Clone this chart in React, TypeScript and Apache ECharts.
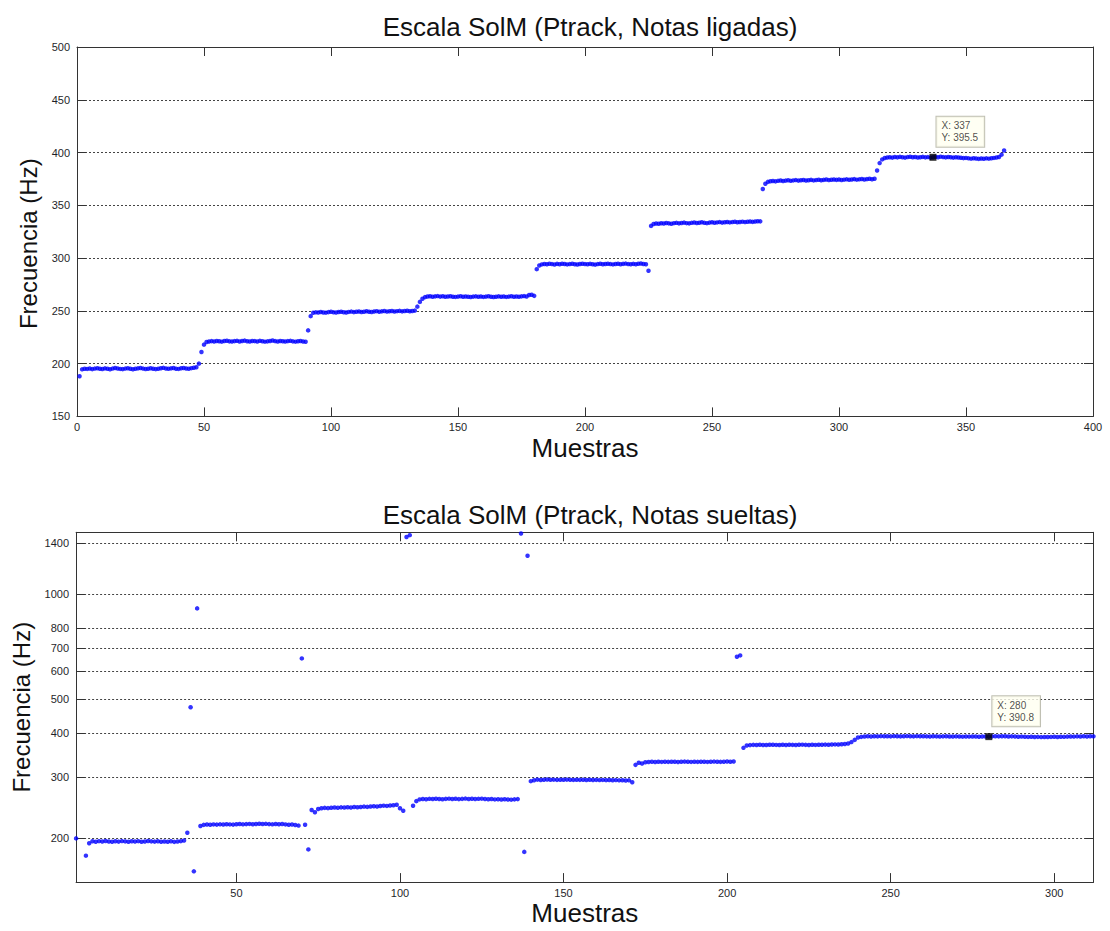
import React, { useEffect, useRef } from "react";
import * as echarts from "echarts";

// ---------- Upper plot: pitch track of the G major scale, legato notes ----------
const topTitle = "Escala SolM (Ptrack, Notas ligadas)";
const topNote1 = [188, 194.6, 195.2, 195.0, 195.4, 194.8, 195.3, 195.6, 195.1, 194.9, 195.5, 195.2, 194.7, 195.3, 195.8, 195.4, 195.0, 194.8, 195.3, 195.6, 195.1, 194.7, 195.2, 195.5, 195.9, 195.3, 194.9, 195.2, 195.6, 195.1, 194.8, 195.2, 195.6, 196.0, 195.4, 195.1, 195.5, 195.8, 195.2, 195.0, 195.6, 195.9, 195.4, 195.2, 195.7, 196.1, 196.5];
const topGlide1 = [200, 211, 218, 220.5];
const topNote2 = [220.9, 221.3, 221.0, 221.5, 221.2, 220.8, 221.4, 221.7, 221.1, 220.9, 221.3, 221.6, 221.0, 221.4, 221.8, 221.2, 220.9, 221.5, 221.3, 221.0, 221.6, 221.2, 220.8, 221.1, 221.5, 221.9, 221.3, 221.0, 221.4, 221.2, 220.9, 221.3, 221.6, 221.1, 220.8, 221.2, 221.5, 221.0, 220.7];
const topGlide2 = [231.5, 245];
const topNote3 = [248.2, 248.6, 248.4, 248.9, 248.5, 248.3, 248.8, 249.1, 248.6, 248.4, 248.9, 249.2, 248.7, 248.5, 249.0, 249.3, 248.8, 249.1, 249.4, 248.9, 249.2, 249.6, 249.1, 248.9, 249.4, 249.7, 249.2, 249.5, 249.8, 249.3, 249.6, 249.9, 249.4, 249.7, 250.0, 249.5, 249.8, 250.1, 249.6, 249.9, 250.2];
const topGlide3 = [254, 258.5, 261.5];
const topNote4 = [263.0, 263.6, 263.9, 263.4, 263.7, 264.0, 263.5, 263.8, 263.3, 263.6, 263.9, 263.4, 263.2, 263.5, 263.8, 263.3, 263.6, 263.4, 263.1, 263.5, 263.7, 263.3, 263.6, 263.2, 263.5, 263.8, 263.4, 263.1, 263.4, 263.7, 263.3, 263.6, 263.2, 263.5, 263.8, 263.4, 263.6, 263.3, 263.7, 264.0, 263.6, 265.0, 265.3, 264.2];
const topGlide4 = [289.5, 293];
const topNote5 = [294.0, 294.4, 294.1, 294.6, 294.3, 293.9, 294.5, 294.2, 294.7, 294.4, 294.0, 294.3, 294.6, 294.2, 293.9, 294.4, 294.7, 294.3, 294.1, 294.5, 294.2, 293.8, 294.3, 294.6, 294.1, 294.4, 294.7, 294.3, 294.0, 294.4, 294.6, 294.2, 294.5, 294.8, 294.3, 294.1, 294.5, 294.2, 294.6, 294.9, 294.4, 294.1];
const topGlide5 = [288, 330.5];
const topNote6 = [332.3, 332.8, 332.5, 333.0, 332.7, 333.2, 332.9, 332.6, 333.1, 333.4, 332.9, 333.2, 333.6, 333.1, 332.9, 333.4, 333.7, 333.2, 333.5, 333.9, 333.4, 333.1, 333.6, 333.9, 333.5, 333.8, 334.1, 333.6, 333.9, 334.2, 333.8, 334.1, 334.4, 333.9, 334.2, 334.5, 334.1, 334.4, 334.7, 334.3, 334.6, 334.9, 334.8];
const topGlide6 = [365.5, 370.5];
const topNote7 = [372.2, 372.8, 373.1, 372.7, 373.2, 373.5, 373.0, 373.4, 373.7, 373.2, 373.6, 373.9, 373.4, 373.7, 374.0, 373.5, 373.8, 374.1, 373.6, 373.9, 374.2, 373.8, 374.1, 374.4, 373.9, 374.2, 374.5, 374.1, 374.4, 374.0, 374.3, 374.6, 374.2, 374.5, 374.8, 374.3, 374.6, 374.9, 374.5, 374.8, 375.1, 374.7, 375.2];
const topGlide7 = [383, 390, 393.5];
const topNote8 = [394.8, 395.3, 395.6, 395.2, 395.8, 395.4, 395.9, 395.5, 395.2, 395.7, 396.0, 395.5, 395.8, 395.3, 395.6, 395.9, 395.4, 395.7, 395.2, 395.5, 395.9, 395.6, 396.1, 395.7, 395.4, 395.8, 395.5, 395.2, 395.6, 395.3, 395.0, 394.7, 394.9, 394.5, 394.2, 394.6, 394.3, 394.0, 394.4, 394.1, 394.5, 394.2, 394.6, 394.9, 395.3, 395.8];
const topTail = [398, 402];
const topTipSample = 337;

const topYTicks = { min: 150, max: 500, step: 50 };
const topXTicks = { min: 0, max: 400, step: 50 };

// ---------- Lower plot: detached notes (log frequency axis) ----------
const botTitle = "Escala SolM (Ptrack, Notas sueltas)";
const botStart = [200, null, null, 178.5, 193.8];
const botNote1 = [196.2, 195.6, 196.4, 195.9, 196.6, 196.0, 195.7, 196.3, 195.8, 196.5, 196.1, 195.6, 196.2, 195.9, 196.4, 195.7, 196.0, 196.6, 196.1, 195.8, 196.3, 195.6, 196.0, 195.7, 196.2, 195.5, 195.9, 196.4, 197.2];
const botGap1 = [207.5, 474, 161, 909, 217];
const botNote2 = [218.6, 219.1, 218.8, 219.3, 219.0, 219.4, 219.1, 219.6, 219.3, 219.0, 219.5, 219.8, 219.4, 219.7, 220.0, 219.6, 219.9, 220.2, 219.8, 220.1, 219.7, 219.4, 219.8, 219.5, 219.9, 219.3, 218.9, 219.2, 218.5, 217.6];
const botGap2 = [654, 218.7, 186, 241, 237.5, 242.8];
const botNote3 = [243.8, 244.5, 244.1, 244.8, 245.2, 244.7, 245.3, 245.0, 245.6, 245.2, 245.8, 245.4, 246.0, 246.5, 246.1, 246.8, 247.2, 246.8, 247.5, 248.1, 247.7, 248.4, 248.8];
const botGap3 = [249.5, 244, 240, 1455, 1472, 248, 255.6, 258.5];
const botNote4 = [259.2, 258.8, 259.5, 259.1, 259.7, 259.3, 258.9, 259.4, 259.8, 259.2, 259.6, 259.0, 259.4, 259.9, 259.3, 259.7, 259.1, 259.5, 259.8, 259.2, 258.7, 259.1, 258.5, 258.9, 258.3, 258.7, 258.4, 258.1, 258.6, 259.0];
const botGap4 = [1488, 183, 1286, 291.5];
const botNote5 = [293.2, 294.5, 293.8, 294.2, 294.6, 294.1, 294.4, 294.0, 294.3, 294.1, 294.5, 294.2, 293.9, 294.3, 294.0, 294.2, 293.8, 294.1, 293.7, 294.0, 293.6, 293.9, 293.5, 293.8, 293.3, 293.6, 293.1, 293.4, 292.8, 293.1];
const botGap5 = [289.5, 324.5, 329, 327.5];
const botNote6 = [330.2, 330.8, 331.1, 330.7, 331.2, 330.9, 331.3, 331.0, 331.4, 331.1, 330.8, 331.2, 331.5, 331.1, 330.9, 331.3, 331.0, 331.4, 331.2, 330.9, 331.3, 331.6, 331.2, 331.0, 331.4, 331.7, 331.3, 331.9];
const botGap6 = [661, 667, 363, 368.5];
const botNote7 = [369.6, 370.2, 369.8, 370.4, 370.0, 369.7, 370.3, 370.6, 370.1, 369.8, 370.4, 370.0, 370.5, 370.2, 369.9, 370.3, 370.7, 370.2, 370.0, 370.5, 370.1, 370.6, 370.3, 370.8, 370.4, 370.9, 371.3, 371.0, 371.6, 372.4];
const botGap7 = [373.5, 377, 382.5, 388.5];
const botNote8 = [390.2, 391.0, 391.6, 391.3, 391.8, 391.4, 392.0, 391.6, 391.9, 391.5, 392.1, 391.7, 391.4, 391.9, 392.2, 391.8, 391.5, 392.0, 391.6, 391.9, 391.5, 391.2, 391.7, 391.4, 391.0, 391.5, 391.8, 391.3, 391.0, 391.4, 391.1, 390.7, 391.2, 390.9, 391.3, 391.0, 390.6, 391.1, 391.2, 390.8, 391.4, 391.8, 391.5, 391.9, 391.6, 391.2, 391.5, 391.0, 390.6, 390.9, 390.4, 390.1, 390.5, 389.8, 390.2, 389.6, 390.0, 389.7, 390.1, 390.4, 390.0, 390.6, 390.3, 390.8, 391.2, 390.9, 391.4, 391.1, 391.6, 391.3, 391.8, 391.5];
const botTipSample = 280;

const botYTickHz = [200, 300, 400, 500, 600, 700, 800, 1000, 1400];
const botYRange = [150, 1500];
const botXTicks = [50, 100, 150, 200, 250, 300];
const botXRange = [1, 312];

const topValues: number[] = [
  ...topNote1, ...topGlide1, ...topNote2, ...topGlide2, ...topNote3, ...topGlide3,
  ...topNote4, ...topGlide4, ...topNote5, ...topGlide5, ...topNote6, ...topGlide6,
  ...topNote7, ...topGlide7, ...topNote8, ...topTail,
];
const botValues: (number | null)[] = [
  ...botStart, ...botNote1, ...botGap1, ...botNote2, ...botGap2, ...botNote3, ...botGap3,
  ...botNote4, ...botGap4, ...botNote5, ...botGap5, ...botNote6, ...botGap6, ...botNote7,
  ...botGap7, ...botNote8,
];

const FONT = 'Arial, "Liberation Sans", Helvetica, sans-serif';
const AXIS_COLOR = "#333";
const TEXT_COLOR = "#1f1f2a";
const MARK_COLOR = "#0000ff";

export default function App() {
  const ref = useRef<HTMLDivElement>(null);

  useEffect(() => {
    if (!ref.current) return;
    const chart = echarts.init(ref.current, null, { renderer: "svg" });

    const topPoints = topValues.map((v, i) => [i + 1, v]);
    const botPoints = botValues
      .map((v, i) => (v == null ? null : [i + 1, Math.log10(v)]))
      .filter((p) => p !== null) as number[][];

    const topTipY = topValues[topTipSample - 1];
    const botTipY = botValues[botTipSample - 1] as number;

    const log = (v: number) => Math.log10(v);
    const botYTicks = botYTickHz.map(log);

    const tick = { show: true, inside: true, length: 9, lineStyle: { color: AXIS_COLOR } };
    const line = { show: true, onZero: false, lineStyle: { color: AXIS_COLOR, width: 1 } };
    const label = { fontFamily: FONT, fontSize: 11, color: TEXT_COLOR };
    const grid = { show: true, type: [2, 2] as number[], color: "#444", width: 1 };
    const xNameStyle = { fontFamily: FONT, fontSize: 26, color: "#111" };
    const yNameStyle = { fontFamily: FONT, fontSize: 24, color: "#111" };
    const titleStyle = { fontFamily: FONT, fontSize: 26, fontWeight: "normal", color: "#111" };

    const tipLabel = (x: number, y: number) => ({
      show: true,
      position: [7, -37],
      formatter: `X: ${x}\nY: ${y.toFixed(1)}`,
      fontFamily: FONT,
      fontSize: 10,
      lineHeight: 12,
      color: "#222",
      backgroundColor: "#fffff0",
      borderColor: "#b0b0a0",
      borderWidth: 1,
      padding: [3, 6, 3, 5],
      align: "left",
    });

    chart.setOption({
      animation: false,
      backgroundColor: "#fff",
      title: [
        { text: topTitle, left: 585, top: 9, textAlign: "center", textStyle: titleStyle },
        { text: botTitle, left: 585, top: 497, textAlign: "center", textStyle: titleStyle },
      ],
      grid: [
        { left: 77, top: 47, width: 1016, height: 369.4, show: false },
        { left: 76.1, top: 532.3, width: 1017.4, height: 349.8, show: false },
      ],
      xAxis: [
        {
          gridIndex: 0, type: "value", position: "bottom",
          min: topXTicks.min, max: topXTicks.max, interval: topXTicks.step,
          axisLine: line, axisTick: tick,
          axisLabel: { ...label, margin: 5 },
          splitLine: { show: false },
          name: "Muestras", nameLocation: "middle", nameGap: 19, nameTextStyle: xNameStyle,
        },
        {
          gridIndex: 0, type: "value", position: "top",
          min: topXTicks.min, max: topXTicks.max, interval: topXTicks.step,
          axisLine: line, axisTick: tick, axisLabel: { show: false }, splitLine: { show: false },
        },
        {
          gridIndex: 1, type: "value", position: "bottom",
          min: botXRange[0], max: botXRange[1],
          axisLine: line,
          axisTick: { ...tick, customValues: botXTicks },
          axisLabel: { ...label, margin: 5, customValues: botXTicks },
          splitLine: { show: false },
          name: "Muestras", nameLocation: "middle", nameGap: 18, nameTextStyle: xNameStyle,
        },
        {
          gridIndex: 1, type: "value", position: "top",
          min: botXRange[0], max: botXRange[1],
          axisLine: line,
          axisTick: { ...tick, customValues: botXTicks },
          axisLabel: { show: false }, splitLine: { show: false },
        },
      ],
      yAxis: [
        {
          gridIndex: 0, type: "value", position: "left",
          min: topYTicks.min, max: topYTicks.max, interval: topYTicks.step,
          axisLine: line, axisTick: tick,
          axisLabel: { ...label, margin: 7 },
          splitLine: { show: true, lineStyle: grid },
          name: "Frecuencia (Hz)", nameLocation: "middle", nameGap: 26, nameRotate: 90,
          nameTextStyle: { ...yNameStyle, padding: [0, 24, 0, 0] },
        },
        {
          gridIndex: 0, type: "value", position: "right",
          min: topYTicks.min, max: topYTicks.max, interval: topYTicks.step,
          axisLine: line, axisTick: tick, axisLabel: { show: false }, splitLine: { show: false },
        },
        {
          gridIndex: 1, type: "value", position: "left",
          min: log(botYRange[0]), max: log(botYRange[1]),
          axisLine: line,
          axisTick: { ...tick, customValues: botYTicks },
          axisLabel: {
            ...label, margin: 7, customValues: botYTicks,
            formatter: (v: number) => String(Math.round(Math.pow(10, v))),
          },
          splitLine: { show: true, lineStyle: grid },
          name: "Frecuencia (Hz)", nameLocation: "middle", nameGap: 30, nameRotate: 90,
          nameTextStyle: yNameStyle,
        },
        {
          gridIndex: 1, type: "value", position: "right",
          min: log(botYRange[0]), max: log(botYRange[1]),
          axisLine: line,
          axisTick: { ...tick, customValues: botYTicks },
          axisLabel: { show: false }, splitLine: { show: false },
        },
      ],
      series: [
        {
          type: "scatter", xAxisIndex: 0, yAxisIndex: 0,
          data: topPoints, symbol: "circle", symbolSize: 4.5,
          itemStyle: { color: MARK_COLOR },
        },
        {
          type: "scatter", xAxisIndex: 0, yAxisIndex: 0, z: 5,
          data: [[topTipSample, topTipY]], symbol: "rect", symbolSize: 7,
          itemStyle: { color: "#000" },
          label: tipLabel(topTipSample, topTipY),
        },
        {
          type: "scatter", xAxisIndex: 2, yAxisIndex: 2,
          data: botPoints, symbol: "circle", symbolSize: 4.5,
          itemStyle: { color: MARK_COLOR },
        },
        {
          type: "scatter", xAxisIndex: 2, yAxisIndex: 2, z: 5,
          data: [[botTipSample, Math.log10(botTipY)]], symbol: "rect", symbolSize: 7,
          itemStyle: { color: "#000" },
          label: tipLabel(botTipSample, botTipY),
        },
      ],
    });

    return () => chart.dispose();
  }, []);

  return (
    <div
      ref={ref}
      style={{ position: "fixed", left: 0, top: 0, width: 1110, height: 931, background: "#fff" }}
    />
  );
}
